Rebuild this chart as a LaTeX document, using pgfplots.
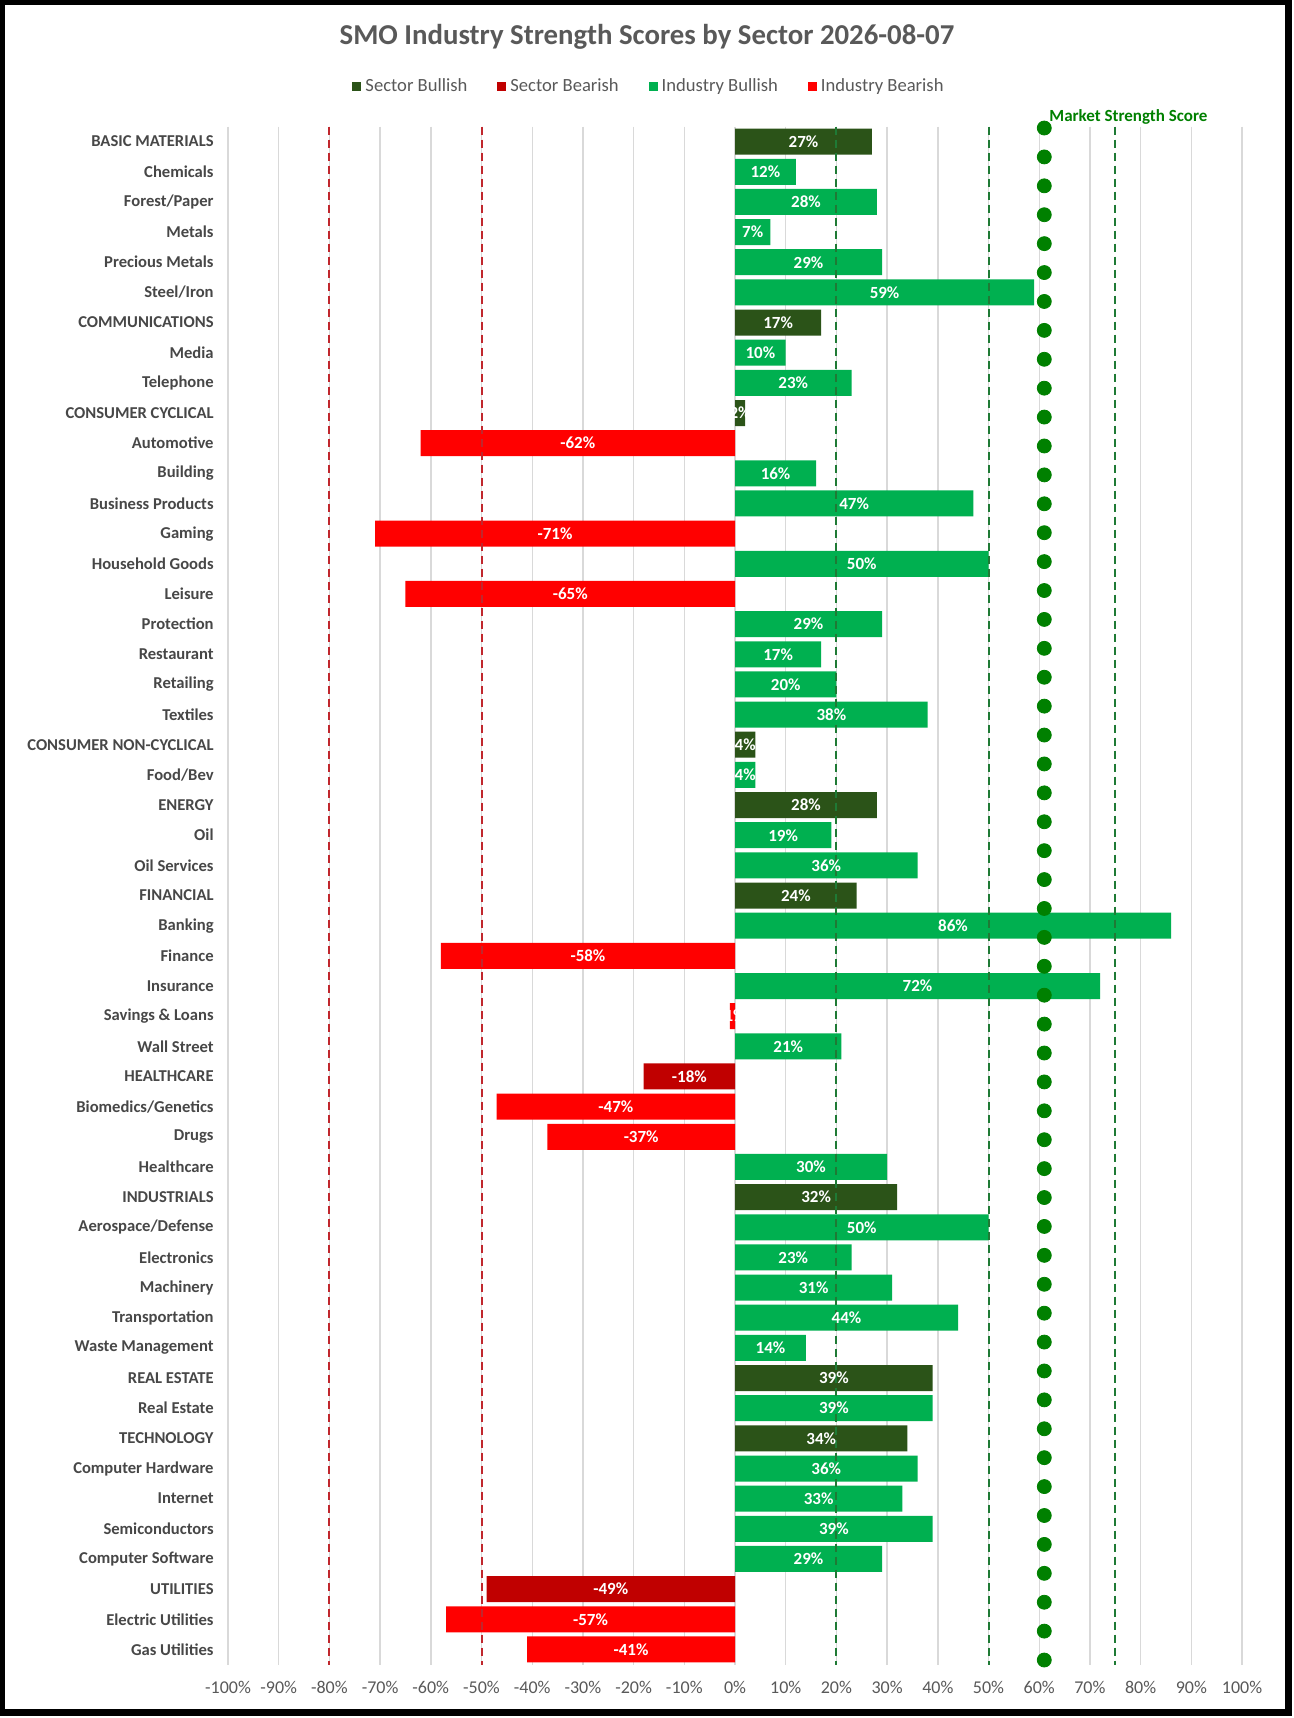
\documentclass[border=0pt]{standalone}
\usepackage{fontspec}
\setmainfont{Carlito}
\usepackage{pgfplots}
\pgfplotsset{compat=1.18}
\usepackage{pgfplotstable}
\definecolor{secbull}{HTML}{2B5318}
\definecolor{secbear}{HTML}{C00000}
\definecolor{indbull}{HTML}{00B050}
\definecolor{indbear}{HTML}{FF0000}
\definecolor{grndash}{HTML}{1F7A35}
\definecolor{reddash}{HTML}{C0272D}
\definecolor{mktgreen}{HTML}{008000}
\definecolor{gridgrey}{HTML}{D9D9D9}
\definecolor{tickgrey}{HTML}{595959}
\definecolor{catgrey}{HTML}{474747}

\pgfplotstableread{
c v
1 27
7 17
10 2
21 4
23 28
26 24
36 32
42 39
44 34
}\sectorbull

\pgfplotstableread{
c v
32 -18
49 -49
}\sectorbear

\pgfplotstableread{
c v
2 12
3 28
4 7
5 29
6 59
8 10
9 23
12 16
13 47
15 50
17 29
18 17
19 20
20 38
22 4
24 19
25 36
27 86
29 72
31 21
35 30
37 50
38 23
39 31
40 44
41 14
43 39
45 36
46 33
47 39
48 29
}\industrybull

\pgfplotstableread{
c v
11 -62
14 -71
16 -65
28 -58
30 -1
33 -47
34 -37
50 -57
51 -41
}\industrybear

\pgfplotstableread{
c v
1 27
2 12
3 28
4 7
5 29
6 59
7 17
8 10
9 23
10 2
11 -62
12 16
13 47
14 -71
15 50
16 -65
17 29
18 17
19 20
20 38
21 4
22 4
23 28
24 19
25 36
26 24
27 86
28 -58
29 72
30 -1
31 21
32 -18
33 -47
34 -37
35 30
36 32
37 50
38 23
39 31
40 44
41 14
42 39
43 39
44 34
45 36
46 33
47 39
48 29
49 -49
50 -57
51 -41
}\barlabels

\pgfplotstableread{
x y
61 0
61 1
61 2
61 3
61 4
61 5
61 6
61 7
61 8
61 9
61 10
61 11
61 12
61 13
61 14
61 15
61 16
61 17
61 18
61 19
61 20
61 21
61 22
61 23
61 24
61 25
61 26
61 27
61 28
61 29
61 30
61 31
61 32
61 33
61 34
61 35
61 36
61 37
61 38
61 39
61 40
61 41
61 42
61 43
61 44
61 45
61 46
61 47
61 48
61 49
61 50
61 51
61 52
61 53
}\marketdots

\begin{document}
\begin{tikzpicture}
\path[use as bounding box] (0pt,0pt) rectangle (647pt,-859pt);
\fill[black] (0pt,0pt) rectangle (646pt,-858pt);
\fill[white] (2.5pt,-2.5pt) rectangle (642.5pt,-854.5pt);
\node[font=\fontsize{14.4}{17}\selectfont\bfseries, text=tickgrey, inner sep=0pt] at (323.5pt,-18.5pt) {SMO Industry Strength Scores by Sector 2026-08-07};
\node[anchor=west, font=\fontsize{8.5}{10}\selectfont\bfseries, text=mktgreen, inner sep=0pt] at (524.5pt,-58.5pt) {Market Strength Score};

\begin{axis}[
  scale only axis, width=507pt, height=769pt,
  at={(114pt,-832.25pt)}, anchor=south west,
  xmin=-100, xmax=100, ymin=0.5, ymax=51.5, y dir=reverse,
  xtick={-100,-90,-80,-70,-60,-50,-40,-30,-20,-10,0,10,20,30,40,50,60,70,80,90,100},
  xticklabels={-100\%,-90\%,-80\%,-70\%,-60\%,-50\%,-40\%,-30\%,-20\%,-10\%,0\%,10\%,20\%,30\%,40\%,50\%,60\%,70\%,80\%,90\%,100\%},
  ytick={1,...,51},
  yticklabels={BASIC MATERIALS,Chemicals,Forest/Paper,Metals,Precious Metals,Steel/Iron,COMMUNICATIONS,Media,Telephone,CONSUMER CYCLICAL,Automotive,Building,Business Products,Gaming,Household Goods,Leisure,Protection,Restaurant,Retailing,Textiles,CONSUMER NON-CYCLICAL,Food/Bev,ENERGY,Oil,Oil Services,FINANCIAL,Banking,Finance,Insurance,Savings \& Loans,Wall Street,HEALTHCARE,Biomedics/Genetics,Drugs,Healthcare,INDUSTRIALS,Aerospace/Defense,Electronics,Machinery,Transportation,Waste Management,REAL ESTATE,Real Estate,TECHNOLOGY,Computer Hardware,Internet,Semiconductors,Computer Software,UTILITIES,Electric Utilities,Gas Utilities},
  xmajorgrids, major grid style={draw=gridgrey, line width=0.7pt},
  axis line style={draw=none}, major tick length=0pt, tick style={draw=none},
  xticklabel style={font=\fontsize{9}{11}\selectfont, text=tickgrey, inner sep=0pt, anchor=center, yshift=-11.25pt},
  yticklabel style={font=\fontsize{8.3}{10}\selectfont\bfseries, text=catgrey, inner sep=0pt, anchor=east, xshift=-7pt},
  /pgf/number format/assume math mode=true,
  legend columns=4,
  legend cell align=left,
  legend style={at={(0.4162,1.0263)}, anchor=center, draw=none, fill=none, inner sep=0pt,
     font=\fontsize{9.3}{11}\selectfont, text=tickgrey,
     /tikz/every even column/.append style={column sep=13pt}},
  legend image code/.code={\fill[#1] (0pt,-2.25pt) rectangle (4.5pt,2.25pt);},
]
\addplot[xbar, bar width=13pt, bar shift=0pt, fill=secbull, draw=none] table[x=v,y=c]{\sectorbull};
\addlegendentry{Sector Bullish}
\addplot[xbar, bar width=13pt, bar shift=0pt, fill=secbear, draw=none] table[x=v,y=c]{\sectorbear};
\addlegendentry{Sector Bearish}
\addplot[xbar, bar width=13pt, bar shift=0pt, fill=indbull, draw=none] table[x=v,y=c]{\industrybull};
\addlegendentry{Industry Bullish}
\addplot[xbar, bar width=13pt, bar shift=0pt, fill=indbear, draw=none] table[x=v,y=c]{\industrybear};
\addlegendentry{Industry Bearish}

\addplot[forget plot, draw=none, mark=none, point meta=explicit,
  nodes near coords={\pgfmathprintnumber{\pgfplotspointmeta}\%},
  every node near coord/.style={anchor=center, text=white, inner sep=0pt, font=\fontsize{8.5}{10}\selectfont\bfseries}]
  table[x expr=\thisrow{v}/2, y=c, meta=v]{\barlabels};

\addplot[forget plot, color=grndash, line width=1pt, dash pattern=on 4pt off 2.5pt] coordinates {(20,0.5) (20,51.5)};
\addplot[forget plot, color=grndash, line width=1pt, dash pattern=on 4pt off 2.5pt] coordinates {(50,0.5) (50,51.5)};
\addplot[forget plot, color=grndash, line width=1pt, dash pattern=on 4pt off 2.5pt] coordinates {(75,0.5) (75,51.5)};
\addplot[forget plot, color=reddash, line width=1pt, dash pattern=on 4pt off 2.5pt] coordinates {(-80,0.5) (-80,51.5)};
\addplot[forget plot, color=reddash, line width=1pt, dash pattern=on 4pt off 2.5pt] coordinates {(-50,0.5) (-50,51.5)};
\end{axis}

\begin{axis}[
  scale only axis, width=507pt, height=769pt,
  at={(114pt,-832.25pt)}, anchor=south west,
  xmin=-100, xmax=100, ymin=-0.052, ymax=53.156, y dir=reverse,
  hide axis, clip=false]
\addplot[only marks, mark=*, mark size=3.5pt, color=mktgreen] table[x=x,y=y]{\marketdots};
\end{axis}
\end{tikzpicture}
\end{document}
